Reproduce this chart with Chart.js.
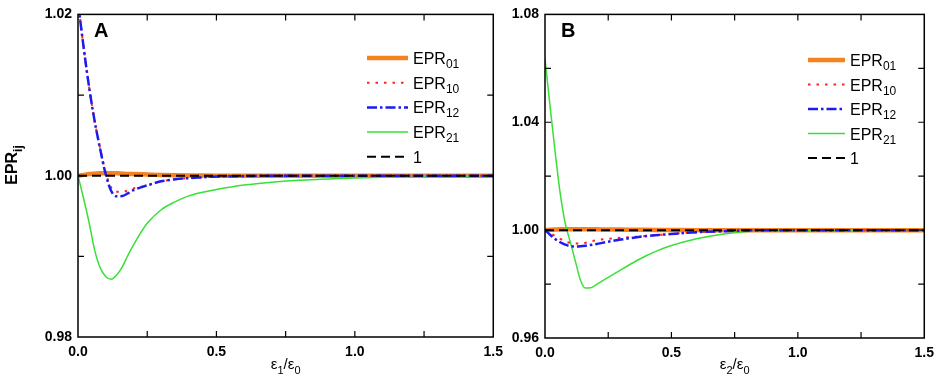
<!DOCTYPE html>
<html lang="en">
<head>
<meta charset="UTF-8" />
<title>EPR ratios</title>
<script src="https://cdn.jsdelivr.net/npm/chart.js"></script>
<style>
  body { margin: 0; background: #fff; }
  #wrap { position: relative; width: 941px; height: 380px; }
  canvas { position: absolute; top: 0; }
</style>
</head>
<body>
<div id="wrap">
  <canvas id="chartA" width="510" height="380" style="left:0"></canvas>
  <canvas id="chartB" width="471" height="380" style="left:470px"></canvas>
</div>
<script>
// shared x grid (epsilon ratio)
const xs = [0, 0.02, 0.04, 0.06, 0.08, 0.1, 0.12, 0.14, 0.16, 0.18, 0.2, 0.25, 0.3, 0.35, 0.4, 0.45,
            0.5, 0.6, 0.7, 0.8, 0.9, 1.0, 1.1, 1.2, 1.3, 1.4, 1.5];

// panel A
const epr01A = [1.0, 1.0001, 1.0002, 1.00025, 1.0003, 1.0003, 1.0003, 1.0003, 1.00025, 1.0002, 1.0002,
                1.00015, 1.0001, 1.00006, 1.00003, 1.00001, 1.0, 1.0, 1.0, 1.0, 1.0, 1.0, 1.0, 1.0, 1.0, 1.0, 1.0];
const epr10A = [1.0215, 1.016, 1.011, 1.0068, 1.0034, 1.0004, 0.9985, 0.998, 0.998, 0.99815, 0.9984,
                0.9988, 0.9993, 0.99955, 0.9997, 0.9998, 0.9999, 0.99995, 1.0, 1.0, 1.0, 1.0, 1.0, 1.0, 1.0, 1.0, 1.0];
const epr12A = [1.0215, 1.016, 1.011, 1.0068, 1.0033, 1.0002, 0.9981, 0.99745, 0.99748, 0.9978, 0.9982,
                0.9988, 0.9993, 0.99955, 0.9997, 0.9998, 0.9999, 0.99995, 1.0, 1.0, 1.0, 1.0, 1.0, 1.0, 1.0, 1.0, 1.0];
const epr21A = [1.0, 0.9972, 0.9942, 0.9908, 0.9886, 0.9875, 0.98715, 0.9877, 0.9887, 0.9901, 0.9914,
                0.9941, 0.99575, 0.99675, 0.9975, 0.99795, 0.9983, 0.99885, 0.9992, 0.99943, 0.9996,
                0.99972, 0.9998, 0.99985, 0.99988, 0.9999, 0.99992];
const oneA = xs.map(() => 1.0);

// panel B
const epr01B = [1.0, 1.0001, 1.0002, 1.0003, 1.0003, 1.0003, 1.0003, 1.0003, 1.0003, 1.0003, 1.0003,
                1.0002, 1.0002, 1.0001, 1.0001, 1.00008, 1.00005, 1.0, 1.0, 1.0, 1.0, 1.0, 1.0, 1.0, 1.0, 1.0, 1.0];
const epr10B = [1.0, 0.9989, 0.9978, 0.9968, 0.9958, 0.9953, 0.995, 0.995, 0.9953, 0.9958, 0.9962,
                0.9968, 0.9972, 0.9975, 0.9978, 0.9982, 0.9986, 0.9992, 0.9996, 0.9999, 1.0, 1.0, 1.0, 1.0, 1.0, 1.0, 1.0];
const epr12B = [1.0, 0.9983, 0.9967, 0.9955, 0.9946, 0.9941, 0.9939, 0.994, 0.9942, 0.9945, 0.9948,
                0.9957, 0.9965, 0.9972, 0.9978, 0.9982, 0.9986, 0.9992, 0.9996, 0.9999, 1.0, 1.0, 1.0, 1.0, 1.0, 1.0, 1.0];
const epr21B = [1.0635, 1.046, 1.029, 1.0137, 1.0025, 0.9956, 0.9885, 0.9815, 0.9785, 0.9786, 0.9796,
                0.9825, 0.9853, 0.988, 0.9905, 0.9926, 0.9943, 0.9968, 0.9985, 0.9995, 0.99995, 1.0, 1.0, 1.0, 1.0, 1.0, 1.0];
const oneB = xs.map(() => 1.0);

const xTicks = [0.0, 0.5, 1.0, 1.5];
const yTicksA = [0.98, 1.00, 1.02];
const yTicksB = [0.96, 1.00, 1.04, 1.08];

const FONT = '"Liberation Sans", Arial, sans-serif';

// legend entries: [main text, subscript]
const legendLabels = [['EPR', '01'], ['EPR', '10'], ['EPR', '12'], ['EPR', '21'], ['1', '']];
const styles = [
  { color: '#f5821f', width: 4.5, dash: [], order: 4 },
  { color: '#ff2020', width: 2, dash: [2.5, 6], order: 2 },
  { color: '#1c1cf0', width: 2.5, dash: [10, 3, 2.5, 3], order: 1 },
  { color: '#38e038', width: 1.5, dash: [], order: 3 },
  { color: '#000000', width: 2, dash: [9, 5], order: 0 }
];

function drawParts(ctx, parts, x, y, size, bold, align, subScale, subDrop) {
  const f = s => (bold ? 'bold ' : '') + s + 'px ' + FONT;
  const ss = Math.round(size * (subScale || 0.72));
  const drop = size * (subDrop || 0.3);
  let total = 0;
  parts.forEach(([t, sub]) => { ctx.font = f(sub ? ss : size); total += ctx.measureText(t).width; });
  let cx = align === 'center' ? x - total / 2 : x;
  ctx.textAlign = 'left';
  ctx.textBaseline = 'alphabetic';
  parts.forEach(([t, sub]) => {
    ctx.font = f(sub ? ss : size);
    ctx.fillText(t, cx, sub ? y + drop : y);
    cx += ctx.measureText(t).width;
  });
}

const framePlugin = {
  id: 'frame',
  afterDraw(chart, args, o) {
    const { ctx, chartArea: a, scales: { x, y } } = chart;
    ctx.save();
    ctx.fillStyle = '#000';
    ctx.strokeStyle = '#000';
    ctx.setLineDash([]);
    ctx.lineWidth = 1.5;
    ctx.strokeRect(a.left, a.top, a.right - a.left, a.bottom - a.top);
    // inward ticks
    ctx.lineWidth = 1.2;
    ctx.beginPath();
    for (let v = 0.25; v < 1.5; v += 0.25) {
      const px = x.getPixelForValue(v);
      ctx.moveTo(px, a.top); ctx.lineTo(px, a.top + 6);
      ctx.moveTo(px, a.bottom); ctx.lineTo(px, a.bottom - 6);
    }
    const half = o.yStep / 2;
    for (let v = o.yMin + half; v < o.yMax - 1e-9; v += half) {
      const py = y.getPixelForValue(v);
      ctx.moveTo(a.left, py); ctx.lineTo(a.left + 6, py);
      ctx.moveTo(a.right, py); ctx.lineTo(a.right - 6, py);
    }
    ctx.stroke();

    // panel letter
    ctx.font = 'bold 20px ' + FONT;
    ctx.textAlign = 'left';
    ctx.fillText(o.letter, a.left + 16, a.top + 23);

    // legend
    legendLabels.forEach((lab, i) => {
      const st = styles[i];
      const ly = o.legY + i * o.legGap;
      ctx.strokeStyle = st.color;
      ctx.lineWidth = st.width;
      ctx.setLineDash(st.dash);
      ctx.beginPath();
      ctx.moveTo(o.legX, ly); ctx.lineTo(o.legX + o.legLen, ly);
      ctx.stroke();
      ctx.fillStyle = '#000';
      drawParts(ctx, [[lab[0], false], [lab[1], true]], o.legX + o.legLen + 5, ly + 6, 16, false, 'left', 0.78, 0.25);
    });
    ctx.setLineDash([]);

    // x title
    ctx.fillStyle = '#000';
    drawParts(ctx, [['\u03b5', false], [o.xsub, true], ['/\u03b5', false], ['0', true]],
              (a.left + a.right) / 2, 369, 15, false, 'center');

    // y title
    if (o.yTitle) {
      ctx.translate(17, 165);
      ctx.rotate(-Math.PI / 2);
      drawParts(ctx, [['EPR', false], ['ij', true]], 0, 0, 16, true, 'center');
    }
    ctx.restore();
  }
};

function makePanel(id, series, yTicks, frameOpts, pad, yWidth, xHeight) {
  const datasets = series.map((vals, i) => ({
    data: xs.map((x, k) => ({ x: x, y: vals[k] })),
    borderColor: styles[i].color,
    borderWidth: styles[i].width,
    borderDash: styles[i].dash,
    order: styles[i].order,
    pointRadius: 0,
    fill: false,
    cubicInterpolationMode: 'monotone'
  }));
  const yMin = yTicks[0], yMax = yTicks[yTicks.length - 1];
  return new Chart(document.getElementById(id), {
    type: 'line',
    data: { datasets },
    options: {
      responsive: false,
      animation: false,
      layout: { padding: pad },
      plugins: {
        legend: { display: false },
        tooltip: { enabled: false },
        frame: Object.assign({ yMin, yMax, yStep: yTicks[1] - yTicks[0] }, frameOpts)
      },
      scales: {
        x: {
          type: 'linear', min: 0, max: 1.5,
          grid: { display: false, drawTicks: false },
          border: { display: false },
          afterFit: s => { s.height = xHeight; },
          afterBuildTicks: s => { s.ticks = xTicks.map(v => ({ value: v })); },
          ticks: { color: '#000', padding: 7, maxRotation: 0, font: { family: FONT, size: 14, weight: 'bold' },
                   callback: v => v.toFixed(1) }
        },
        y: {
          type: 'linear', min: yMin, max: yMax,
          grid: { display: false, drawTicks: false },
          border: { display: false },
          afterFit: s => { s.width = yWidth; },
          afterBuildTicks: s => { s.ticks = yTicks.map(v => ({ value: v })); },
          ticks: { color: '#000', padding: 6, font: { family: FONT, size: 14, weight: 'bold' },
                   callback: v => v.toFixed(2) }
        }
      }
    },
    plugins: [framePlugin]
  });
}

makePanel('chartA', [epr01A, epr10A, epr12A, epr21A, oneA], yTicksA,
  { letter: 'A', xsub: '1', yTitle: true, legX: 367, legY: 58, legGap: 24.7, legLen: 41 },
  { top: 9, right: 11, left: 0, bottom: 0 }, 78, 43);

makePanel('chartB', [epr01B, epr10B, epr12B, epr21B, oneB], yTicksB,
  { letter: 'B', xsub: '2', yTitle: false, legX: 338, legY: 60, legGap: 24.5, legLen: 37 },
  { top: 12, right: 12, left: 0, bottom: 0 }, 75, 42);
</script>
</body>
</html>
